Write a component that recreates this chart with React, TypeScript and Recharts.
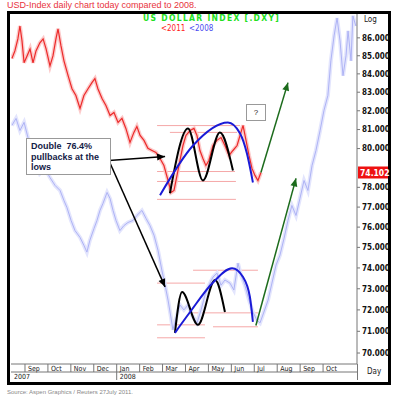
import React from 'react';
import { ComposedChart, Line, XAxis, YAxis, ReferenceLine } from 'recharts';

// x = months since 1 Sep 2007 (2011 is overlaid on the 2008 calendar)
const monthTicks = [0, 1, 2, 3, 4, 5, 6, 7, 8, 9, 10, 11, 12, 13];
const monthLabels = ['Sep', 'Oct', 'Nov', 'Dec', 'Jan', 'Feb', 'Mar', 'Apr', 'May', 'Jun', 'Jul', 'Aug', 'Sep', 'Oct'];
const yearTicks = [-0.61, 4];
const yearLabels = ['2007', '2008'];
// 79 sits under the last-quote tag
const priceTicks = [70, 71, 72, 73, 74, 75, 76, 77, 78, 80, 81, 82, 83, 84, 85, 86];

// <2011, as plotted against the right scale
const redMonths = [
  -0.57, -0.44, -0.31, -0.22, -0.13, -0.04, 0.09, 0.22, 0.35, 0.48, 0.65, 0.79, 0.92, 1.09, 1.22, 1.35, 1.44,
  1.57, 1.7, 1.88, 2.05, 2.22, 2.4, 2.57, 2.75, 2.92, 3.05, 3.18, 3.36, 3.53, 3.71, 3.88, 4.06, 4.23, 4.4, 4.58,
  4.75, 4.88, 5.02, 5.19, 5.36, 5.54, 5.71, 5.89, 6.06, 6.24, 6.37, 6.5, 6.63, 6.76, 6.89, 7.02, 7.2, 7.37, 7.5,
  7.63, 7.76, 7.89, 8.02, 8.2, 8.37, 8.55, 8.72, 8.9, 9.07, 9.25, 9.38, 9.51, 9.64, 9.77, 9.9, 10.03, 10.16, 10.29,
];
const redValues = [
  84.85, 85.27, 85.94, 86.67, 85.83, 84.61, 84.99, 85.38, 84.61, 85.27, 85.72, 85.94, 85.38, 84.44, 84.99, 85.94, 86.51,
  85.55, 84.72, 83.9, 83.19, 82.82, 82.12, 82.82, 83.19, 83.52, 83.74, 83.19, 82.66, 82.28, 81.75, 81.91, 81.38, 81.59, 81.06, 80.32,
  80.85, 81.16, 80.69, 80.43, 80.01, 79.9, 79.8, 79.48, 79.12, 78.35, 77.74, 77.84, 78.61, 79.38, 80.16, 80.69, 80.95, 81.06, 80.69,
  79.9, 79.48, 79.12, 79.38, 80.16, 80.43, 80.58, 80.16, 79.64, 79.9, 80.16, 80.69, 81.22, 80.43, 79.64, 78.97, 78.61, 78.35, 78.76,
];
const lastQuote = '74.102';

// <2008
const blueMonths = [
  -0.57, -0.39, -0.22, -0.04, 0.13, 0.31, 0.48, 0.65, 0.87, 1.09, 1.31, 1.53, 1.7, 1.83, 2.01, 2.18, 2.4, 2.57, 2.7,
  2.83, 3.01, 3.14, 3.27, 3.4, 3.58, 3.71, 3.84, 3.97, 4.14, 4.32, 4.49, 4.71, 4.88, 5.1, 5.28, 5.45, 5.63, 5.8, 5.97,
  6.11, 6.24, 6.37, 6.45, 6.59, 6.76, 6.93, 7.11, 7.28, 7.5, 7.68, 7.85, 8.02, 8.2, 8.37, 8.55, 8.72, 8.94, 9.11, 9.29,
  9.42, 9.59, 9.77, 9.94, 10.11, 10.25, 10.42, 10.6, 10.77, 10.95, 11.12, 11.3, 11.47, 11.64, 11.82, 11.99, 12.17, 12.34,
  12.52, 12.69, 12.87, 13.04, 13.21, 13.34, 13.48, 13.61, 13.74, 13.87, 14.0, 14.09, 14.22, 14.3, 14.43,
];
const blueValues = [
  81.22, 81.59, 80.95, 81.38, 80.58, 79.9, 79.38, 78.71, 78.97, 78.5, 78.1, 77.84, 77.33, 76.98, 76.33, 75.83, 75.49, 75.1, 74.77,
  75.35, 75.93, 76.33, 76.83, 77.18, 77.74, 77.43, 76.83, 76.33, 75.83, 76.08, 76.23, 76.33, 76.58, 76.83, 76.43, 76.08, 75.59, 74.86, 73.89,
  73.17, 72.46, 71.62, 71.07, 71.62, 72.23, 72.0, 72.23, 71.76, 71.39, 72.0, 72.7, 73.17, 73.56, 73.75, 73.17, 73.42, 73.27, 72.94, 74.23,
  73.65, 73.17, 72.46, 71.9, 71.53, 71.39, 71.9, 72.46, 73.27, 74.14, 74.62, 75.45, 76.33, 77.08, 76.58, 77.43, 78.35, 77.84,
  79.12, 79.9, 80.95, 82.02, 82.82, 84.72, 86.11, 87.12, 85.83, 83.9, 84.99, 86.39, 84.72, 87.24, 86.67,
];

// hand-drawn annotations
const topWaveMonths = [6.32, 7.11, 7.76, 8.5, 9.07];
const topWaveValues = [77.7, 81.06, 78.35, 80.84, 78.86];
const topArcMonths = [5.89, 7.33, 8.85, 9.38, 9.68, 9.94];
const topArcValues = [77.6, 80.16, 81.37, 80.79, 79.74, 78.25];
const lowWaveMonths = [6.54, 6.85, 7.54, 8.29, 8.72];
const lowWaveValues = [70.93, 72.85, 71.3, 73.42, 71.9];
const lowArcMonths = [6.54, 7.2, 8.2, 9.03, 9.51, 9.81, 9.94];
const lowArcValues = [70.93, 71.9, 73.3, 73.98, 73.56, 72.61, 71.44];

const levelValues = [81.21, 80.85, 78.81, 78.3, 77.39, 73.89, 73.27, 71.86, 71.3, 71.21, 70.7];
const levelFrom = [5.76, 6.32, 5.76, 5.76, 5.76, 7.33, 5.76, 7.33, 5.76, 8.2, 5.76];
const levelTo = [9.38, 9.25, 9.16, 9.2, 9.2, 10.16, 7.85, 10.16, 7.85, 10.16, 7.85];

const pointerMonths = [3.66, 6.11];
const pointerUpValues = [79.38, 79.59];
const pointerDownValues = [79.38, 73.09];
const greenUpMonths = [10.29, 11.47];
const greenUpValues = [78.76, 83.52];
const greenLowMonths = [10.07, 11.82];
const greenLowValues = [71.27, 78.46];

const zip = (ms: number[], vs: number[]) => ms.map((m, i) => ({ m, v: vs[i] }));

const redData = zip(redMonths, redValues);
const blueData = zip(blueMonths, blueValues);

const narrow = "'Liberation Sans Narrow', 'DejaVu Sans Condensed', sans-serif";
const arial = "'Liberation Sans', Arial, sans-serif";

const arrowHead = (color: string) => (props: any) => {
  const { cx, cy, index, points } = props;
  if (!points || index !== points.length - 1) return <g key={`n-${index}`} />;
  const prev = points[index - 1];
  const a = Math.atan2(cy - prev.y, cx - prev.x);
  const bx = cx - 8 * Math.cos(a);
  const by = cy - 8 * Math.sin(a);
  const s = Math.sin(a) * 3.5;
  const c = Math.cos(a) * 3.5;
  return (
    <polygon
      key={`a-${index}`}
      points={`${cx},${cy} ${bx + s},${by - c} ${bx - s},${by + c}`}
      fill={color}
    />
  );
};

const MonthTick = (props: any) => {
  const { x, y, index } = props;
  return (
    <g>
      <line x1={x} y1={y} x2={x} y2={y + 8} stroke="#777" />
      <text x={x + 3} y={y + 7} fontSize={7} fontFamily={narrow} fill="#222">
        {monthLabels[index]}
      </text>
    </g>
  );
};

const YearTick = (props: any) => {
  const { x, y, index } = props;
  return (
    <g>
      {index > 0 && <line x1={x} y1={y} x2={x} y2={y + 8} stroke="#777" />}
      <text x={x + 3} y={y + 7} fontSize={7} fontFamily={narrow} fill="#222">
        {yearLabels[index]}
      </text>
    </g>
  );
};

const QuoteTag = (props: any) => {
  const { viewBox } = props;
  const x = viewBox.x + viewBox.width;
  return (
    <g>
      <rect x={x + 1} y={viewBox.y - 6} width={30} height={12} fill="#ee1111" />
      <text x={x + 3} y={viewBox.y + 3.5} fontSize={8.5} fontWeight="bold" fontFamily={narrow} fill="#fff">
        {lastQuote}
      </text>
    </g>
  );
};

export default function App() {
  return (
    <div style={{ position: 'absolute', left: 0, top: 0, width: 396, height: 400, background: '#fff', fontFamily: arial }}>
      <div style={{ position: 'absolute', left: 7, top: 0, fontSize: 9, color: '#e8323c', whiteSpace: 'nowrap' }}>
        USD-Index daily chart today compared to 2008.
      </div>
      <div
        style={{
          position: 'absolute',
          left: 7,
          top: 11,
          width: 378,
          height: 368,
          border: '3px solid #000',
        }}
      />
      <div style={{ position: 'absolute', left: 357, top: 364, width: 1, height: 16, background: '#777' }} />
      <div style={{ position: 'absolute', left: 0, top: 0 }}>
        <ComposedChart width={396} height={400} margin={{ top: 14, right: 0, bottom: 20, left: 11 }}>
          <XAxis
            dataKey="m"
            type="number"
            domain={[-0.61, 14.48]}
            allowDataOverflow
            ticks={monthTicks}
            tick={<MonthTick />}
            tickSize={0}
            tickMargin={0}
            tickLine={false}
            height={8}
            stroke="#777"
            interval={0}
          />
          <XAxis
            xAxisId="year"
            dataKey="m"
            type="number"
            domain={[-0.61, 14.48]}
            allowDataOverflow
            ticks={yearTicks}
            tick={<YearTick />}
            tickSize={0}
            tickMargin={0}
            tickLine={false}
            height={8}
            stroke="#777"
            interval={0}
          />
          <YAxis
            orientation="right"
            scale="log"
            domain={[69.5, 87.35]}
            allowDataOverflow
            ticks={priceTicks}
            interval={0}
            width={39}
            tickSize={3}
            tickMargin={2}
            stroke="#777"
            tick={{ fontSize: 8, fontWeight: 'bold', fontFamily: narrow, fill: '#111' }}
            tickFormatter={(v: number) => v.toFixed(3)}
          />

          {levelValues.map((v, i) => (
            <ReferenceLine
              key={`lvl-${i}`}
              segment={[
                { x: levelFrom[i], y: v },
                { x: levelTo[i], y: v },
              ]}
              stroke="#f5a8a8"
              strokeWidth={1}
            />
          ))}

          <Line data={blueData} dataKey="v" stroke="#e3e5fd" strokeWidth={4} dot={false} activeDot={false} isAnimationActive={false} />
          <Line data={blueData} dataKey="v" stroke="#aeb3f5" strokeWidth={1} dot={false} activeDot={false} isAnimationActive={false} />
          <Line data={redData} dataKey="v" stroke="#fccaca" strokeWidth={4} dot={false} activeDot={false} isAnimationActive={false} />
          <Line data={redData} dataKey="v" stroke="#ec2a2a" strokeWidth={1.2} dot={false} activeDot={false} isAnimationActive={false} />

          <ReferenceLine y={redValues[redValues.length - 1]} stroke="none" ifOverflow="visible" label={<QuoteTag />} />

          <Line data={zip(topWaveMonths, topWaveValues)} dataKey="v" type="monotone" stroke="#000" strokeWidth={2} dot={false} activeDot={false} isAnimationActive={false} />
          <Line data={zip(topArcMonths, topArcValues)} dataKey="v" type="monotone" stroke="#1a1ad6" strokeWidth={2} dot={false} activeDot={false} isAnimationActive={false} />
          <Line data={zip(lowWaveMonths, lowWaveValues)} dataKey="v" type="monotone" stroke="#000" strokeWidth={2} dot={false} activeDot={false} isAnimationActive={false} />
          <Line data={zip(lowArcMonths, lowArcValues)} dataKey="v" type="monotone" stroke="#1a1ad6" strokeWidth={2} dot={false} activeDot={false} isAnimationActive={false} />

          <Line data={zip(pointerMonths, pointerUpValues)} dataKey="v" stroke="#000" strokeWidth={1.5} dot={arrowHead('#000')} activeDot={false} isAnimationActive={false} />
          <Line data={zip(pointerMonths, pointerDownValues)} dataKey="v" stroke="#000" strokeWidth={1.5} dot={arrowHead('#000')} activeDot={false} isAnimationActive={false} />
          <Line data={zip(greenUpMonths, greenUpValues)} dataKey="v" stroke="#1c6b1c" strokeWidth={1.5} dot={arrowHead('#1c6b1c')} activeDot={false} isAnimationActive={false} />
          <Line data={zip(greenLowMonths, greenLowValues)} dataKey="v" stroke="#1c6b1c" strokeWidth={1.5} dot={arrowHead('#1c6b1c')} activeDot={false} isAnimationActive={false} />
        </ComposedChart>
      </div>

      <div style={{ position: 'absolute', left: 143, top: 13, fontSize: 8.5, fontWeight: 'bold', fontFamily: narrow, color: '#22e022', letterSpacing: 1.3, whiteSpace: 'nowrap' }}>
        US DOLLAR INDEX [.DXY]
      </div>
      <div style={{ position: 'absolute', left: 161, top: 24, fontSize: 8, fontFamily: narrow, color: '#ff2020' }}>&lt;2011</div>
      <div style={{ position: 'absolute', left: 189, top: 24, fontSize: 8, fontFamily: narrow, color: '#4a4af0' }}>&lt;2008</div>
      <div style={{ position: 'absolute', left: 364, top: 15, fontSize: 8, fontFamily: narrow, color: '#222' }}>Log</div>
      <div style={{ position: 'absolute', left: 367, top: 367, fontSize: 8, fontFamily: narrow, color: '#222' }}>Day</div>

      <div
        style={{
          position: 'absolute',
          left: 26,
          top: 138,
          width: 79,
          height: 33,
          padding: '2px 0 0 4px',
          background: '#fff',
          border: '1px solid #999',
          fontSize: 9,
          fontWeight: 'bold',
          lineHeight: '10.5px',
          color: '#132046',
          whiteSpace: 'pre',
        }}
      >
        {'Double  76.4%\npullbacks at the\nlows'}
      </div>
      <div
        style={{
          position: 'absolute',
          left: 246,
          top: 104,
          width: 18,
          height: 15,
          background: '#fff',
          border: '1px solid #999',
          fontSize: 8,
          lineHeight: '15px',
          textAlign: 'center',
          color: '#222',
        }}
      >
        ?
      </div>

      <div style={{ position: 'absolute', left: 7, top: 389, fontSize: 6, color: '#888', whiteSpace: 'nowrap' }}>
        Source: Aspen Graphics / Reuters 27July 2011.
      </div>
    </div>
  );
}
